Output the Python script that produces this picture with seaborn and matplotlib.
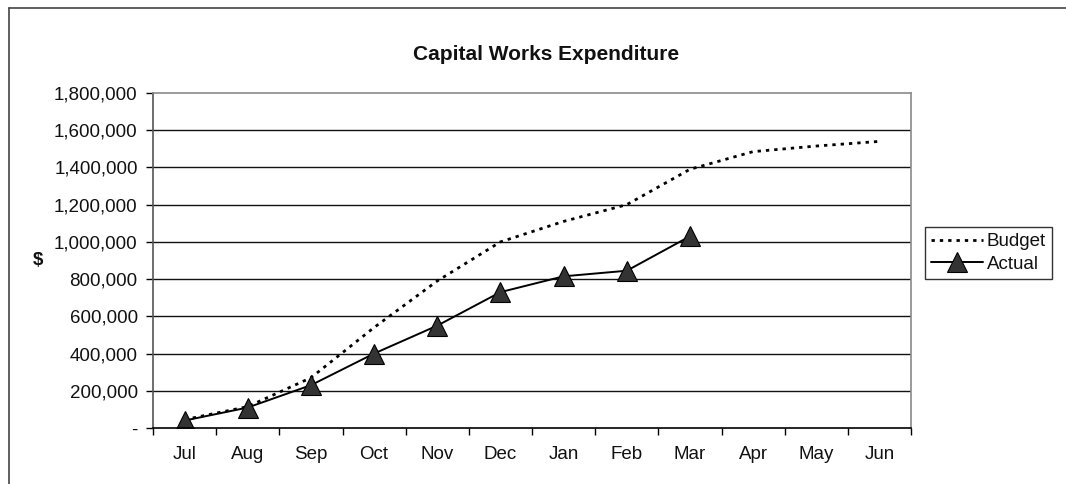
import matplotlib
matplotlib.use("Agg")
import matplotlib.pyplot as plt
from matplotlib.ticker import FuncFormatter, FixedLocator, MultipleLocator
from matplotlib.lines import Line2D
import seaborn as sns
import pandas as pd
import numpy as np

months = ["Jul", "Aug", "Sep", "Oct", "Nov", "Dec", "Jan", "Feb", "Mar", "Apr", "May", "Jun"]
budget = [45000, 115000, 270000, 540000, 790000, 1000000, 1110000, 1200000, 1390000, 1485000, 1515000, 1540000]
actual = [40000, 110000, 230000, 400000, 550000, 730000, 815000, 845000, 1030000]

sns.set_theme(style="white")
plt.rcParams["font.family"] = ["Liberation Sans", "DejaVu Sans"]

fig = plt.figure(figsize=(10.66, 4.84), dpi=100)
ax = fig.add_axes([153/1066, 1-428/484, (911-153)/1066, (428-93)/484])

df_b = pd.DataFrame({"pos": np.arange(len(budget)), "val": budget})
df_a = pd.DataFrame({"pos": np.arange(len(actual)), "val": actual})

sns.lineplot(data=df_b, x="pos", y="val", ax=ax, color="black", linewidth=2.0,
             linestyle=(0, (1.2, 1.8)), label="Budget")
sns.lineplot(data=df_a, x="pos", y="val", ax=ax, color="black", linewidth=1.4,
             marker="^", markersize=15, markerfacecolor="#333333",
             markeredgecolor="black", markeredgewidth=0.8, label="Actual")

ax.set_xlim(-0.5, 11.5)
ax.set_ylim(0, 1800000)
ax.yaxis.set_major_locator(MultipleLocator(200000))
ax.yaxis.set_major_formatter(FuncFormatter(lambda v, p: "-" if v == 0 else f"{v:,.0f}"))
ax.set_xticks(np.arange(len(months)))
ax.set_xticklabels(months)
ax.xaxis.set_minor_locator(FixedLocator(np.arange(-0.5, 12, 1)))
ax.tick_params(axis="x", which="major", length=0, pad=13, labelsize=13.5, labelcolor="#111111")
ax.tick_params(axis="x", which="minor", length=5, width=1, color="black", direction="out", bottom=True)
ax.tick_params(axis="y", which="major", length=5, width=1, color="black", direction="out", left=True,
               labelsize=13.5, pad=6, labelcolor="#111111")

ax.grid(False)
for y in range(200000, 1800000, 200000):
    ax.axhline(y, color="#111111", linewidth=1.0, zorder=0)

ax.spines["top"].set_color("#8a8a8a")
ax.spines["right"].set_color("#8a8a8a")
ax.spines["left"].set_color("#555555")
ax.spines["bottom"].set_color("black")
for s in ax.spines.values():
    s.set_linewidth(1.2)

ax.set_xlabel("")
ax.set_ylabel("$", rotation=0, fontsize=13.5, fontweight="bold", labelpad=0, color="#111111",
              va="center", ha="center")
ax.yaxis.set_label_coords(-0.152, 0.5)

fig.text(546/1066, 1-55/484, "Capital Works Expenditure", ha="center", va="center",
         fontsize=15, fontweight="bold", color="#111111")

leg = ax.legend(loc="center left", bbox_to_anchor=(925/1066, 1-253/484),
                bbox_transform=fig.transFigure, frameon=True, fancybox=False,
                edgecolor="black", fontsize=13.5, handlelength=2.8,
                borderpad=0.3, labelspacing=0.3, handletextpad=0.2, borderaxespad=0)
leg.get_frame().set_linewidth(1.0)
for t in leg.get_texts():
    t.set_color("#111111")

fig.add_artist(Line2D([9/1066, 9/1066], [0, 1-8/484], transform=fig.transFigure, color="#444444", linewidth=1.2))
fig.add_artist(Line2D([9/1066, 1], [1-8/484, 1-8/484], transform=fig.transFigure, color="#444444", linewidth=1.2))

fig.savefig("out.png", dpi=100, facecolor="white")
